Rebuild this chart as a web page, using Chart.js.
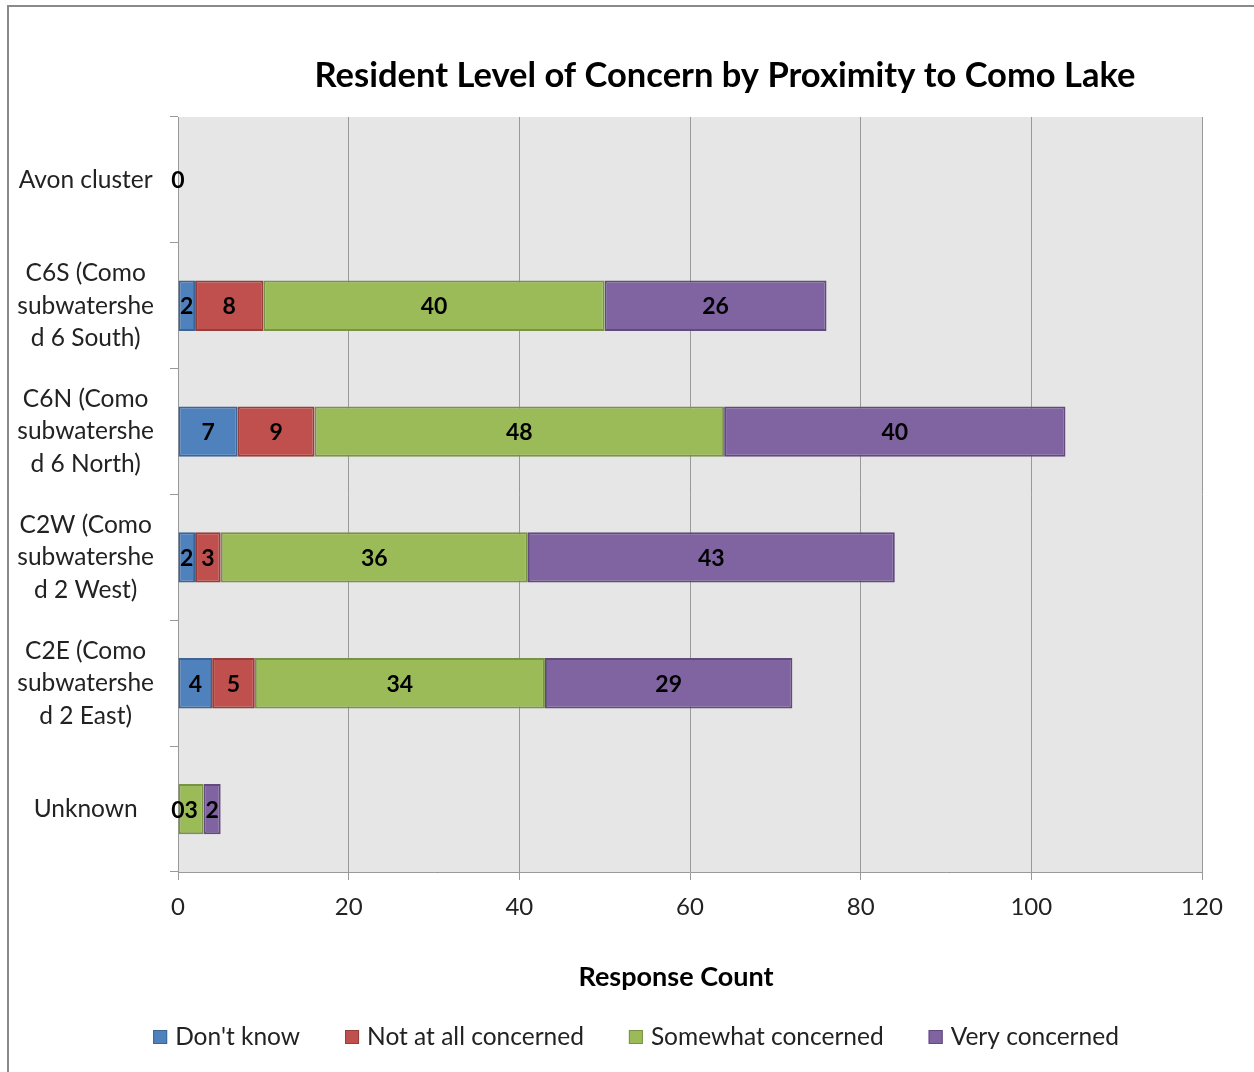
<!DOCTYPE html>
<html>
<head>
<meta charset="utf-8">
<script src="https://cdn.jsdelivr.net/npm/chart.js@4"></script>
<style>
  html, body { margin: 0; padding: 0; background: #fff; }
  #wrap { width: 1254px; height: 1072px; }
</style>
</head>
<body>
<div id="wrap"><canvas id="myChart" width="1254" height="1072"></canvas></div>
<script>
// survey groups, top to bottom
var groups = [
    'Avon cluster',
    ['C6S (Como', 'subwatershe', 'd 6 South)'],
    ['C6N (Como', 'subwatershe', 'd 6 North)'],
    ['C2W (Como', 'subwatershe', 'd 2 West)'],
    ['C2E (Como', 'subwatershe', 'd 2 East)'],
    'Unknown'
];
var dontKnow  = [0, 2, 7, 2, 4, 0];
var notAtAll  = [null, 8, 9, 3, 5, null];
var somewhat  = [null, 40, 48, 36, 34, 3];
var veryConc  = [null, 26, 40, 43, 29, 2];
var countTicks = [0, 20, 40, 60, 80, 100, 120];

var FONT = 'Lato, "Open Sans", sans-serif';

// white page with the grey frame, the titles and the legend row
var framePlugin = {
    id: 'frame',
    beforeDraw: function (chart) {
        var ctx = chart.ctx;
        ctx.save();
        ctx.fillStyle = '#fff';
        ctx.fillRect(0, 0, chart.width, chart.height);
        ctx.strokeStyle = '#8a8a8a';
        ctx.lineWidth = 2;
        ctx.strokeRect(8, 6, chart.width + 20, chart.height + 20);
        var a = chart.chartArea;
        ctx.fillStyle = '#e6e6e6';
        ctx.fillRect(a.left, a.top, a.right - a.left, a.bottom - a.top);
        ctx.restore();
    },
    afterDraw: function (chart) {
        var ctx = chart.ctx;
        ctx.save();
        ctx.fillStyle = '#000';
        ctx.textAlign = 'center';
        ctx.textBaseline = 'middle';
        ctx.font = 'bold 34.5px ' + FONT;
        ctx.fillText('Resident Level of Concern by Proximity to Como Lake', 725, 76);
        ctx.font = 'bold 27px ' + FONT;
        ctx.fillText('Response Count', 676, 977);

        // legend: small square, then the name, items spread round x = 636
        var box = 14, gap = 8, space = 45, cy = 1037;
        ctx.font = '24.5px ' + FONT;
        ctx.textAlign = 'left';
        var sets = chart.data.datasets;
        var total = 0;
        sets.forEach(function (ds, i) {
            total += box + gap + ctx.measureText(ds.label).width + (i ? space : 0);
        });
        var x = 636 - total / 2;
        sets.forEach(function (ds) {
            ctx.fillStyle = ds.backgroundColor;
            ctx.fillRect(x, cy - box / 2, box, box);
            ctx.strokeStyle = ds.borderColor;
            ctx.lineWidth = 1;
            ctx.strokeRect(x + 0.5, cy - box / 2 + 0.5, box - 1, box - 1);
            ctx.fillStyle = '#222';
            ctx.fillText(ds.label, x + box + gap, cy);
            x += box + gap + ctx.measureText(ds.label).width + space;
        });
        ctx.restore();
    }
};

// value written in the middle of each bar segment
var valuePlugin = {
    id: 'values',
    afterDatasetsDraw: function (chart) {
        var ctx = chart.ctx;
        ctx.save();
        ctx.font = 'bold 23px ' + FONT;
        ctx.fillStyle = '#000';
        ctx.textAlign = 'center';
        ctx.textBaseline = 'middle';
        chart.data.datasets.forEach(function (ds, i) {
            var meta = chart.getDatasetMeta(i);
            meta.data.forEach(function (bar, j) {
                var v = ds.data[j];
                if (v === null || v === undefined) return;
                var p = bar.getProps(['x', 'y', 'base'], true);
                ctx.fillText(String(v), (p.x + p.base) / 2, p.y + 1);
            });
        });
        ctx.restore();
    }
};

function series(label, data, fill, edge) {
    return {
        label: label,
        data: data,
        backgroundColor: fill,
        borderColor: edge,
        borderWidth: 2,
        borderSkipped: false,
        barPercentage: 0.4,
        categoryPercentage: 1
    };
}

var ctx = document.getElementById('myChart').getContext('2d');
new Chart(ctx, {
    type: 'bar',
    data: {
        labels: groups,
        datasets: [
            series("Don't know", dontKnow, '#4f81bd', '#3c6596'),
            series('Not at all concerned', notAtAll, '#c0504d', '#963e3c'),
            series('Somewhat concerned', somewhat, '#9bbb59', '#789346'),
            series('Very concerned', veryConc, '#8064a2', '#614b7c')
        ]
    },
    options: {
        indexAxis: 'y',
        responsive: false,
        animation: false,
        layout: { padding: { top: 117, right: 52, left: 0, bottom: 80 } },
        scales: {
            x: {
                stacked: true,
                min: 0,
                max: 120,
                afterBuildTicks: function (scale) {
                    scale.ticks = countTicks.map(function (v) { return { value: v }; });
                },
                afterFit: function (scale) { scale.height = 120; },
                grid: { color: '#999', lineWidth: 1, tickLength: 8, tickColor: '#999' },
                border: { color: '#999', width: 1 },
                ticks: { color: '#222', font: { family: FONT, size: 24 }, padding: 13 }
            },
            y: {
                stacked: true,
                afterFit: function (scale) { scale.width = 178; },
                grid: { drawOnChartArea: false, offset: true, tickLength: 8, color: '#999' },
                border: { color: '#999', width: 1 },
                ticks: {
                    color: '#222',
                    crossAlign: 'center',
                    padding: 16,
                    font: { family: FONT, size: 24.5, lineHeight: 1.33 }
                }
            }
        },
        plugins: {
            tooltip: { enabled: false },
            legend: { display: false }
        }
    },
    plugins: [framePlugin, valuePlugin]
});
</script>
</body>
</html>
